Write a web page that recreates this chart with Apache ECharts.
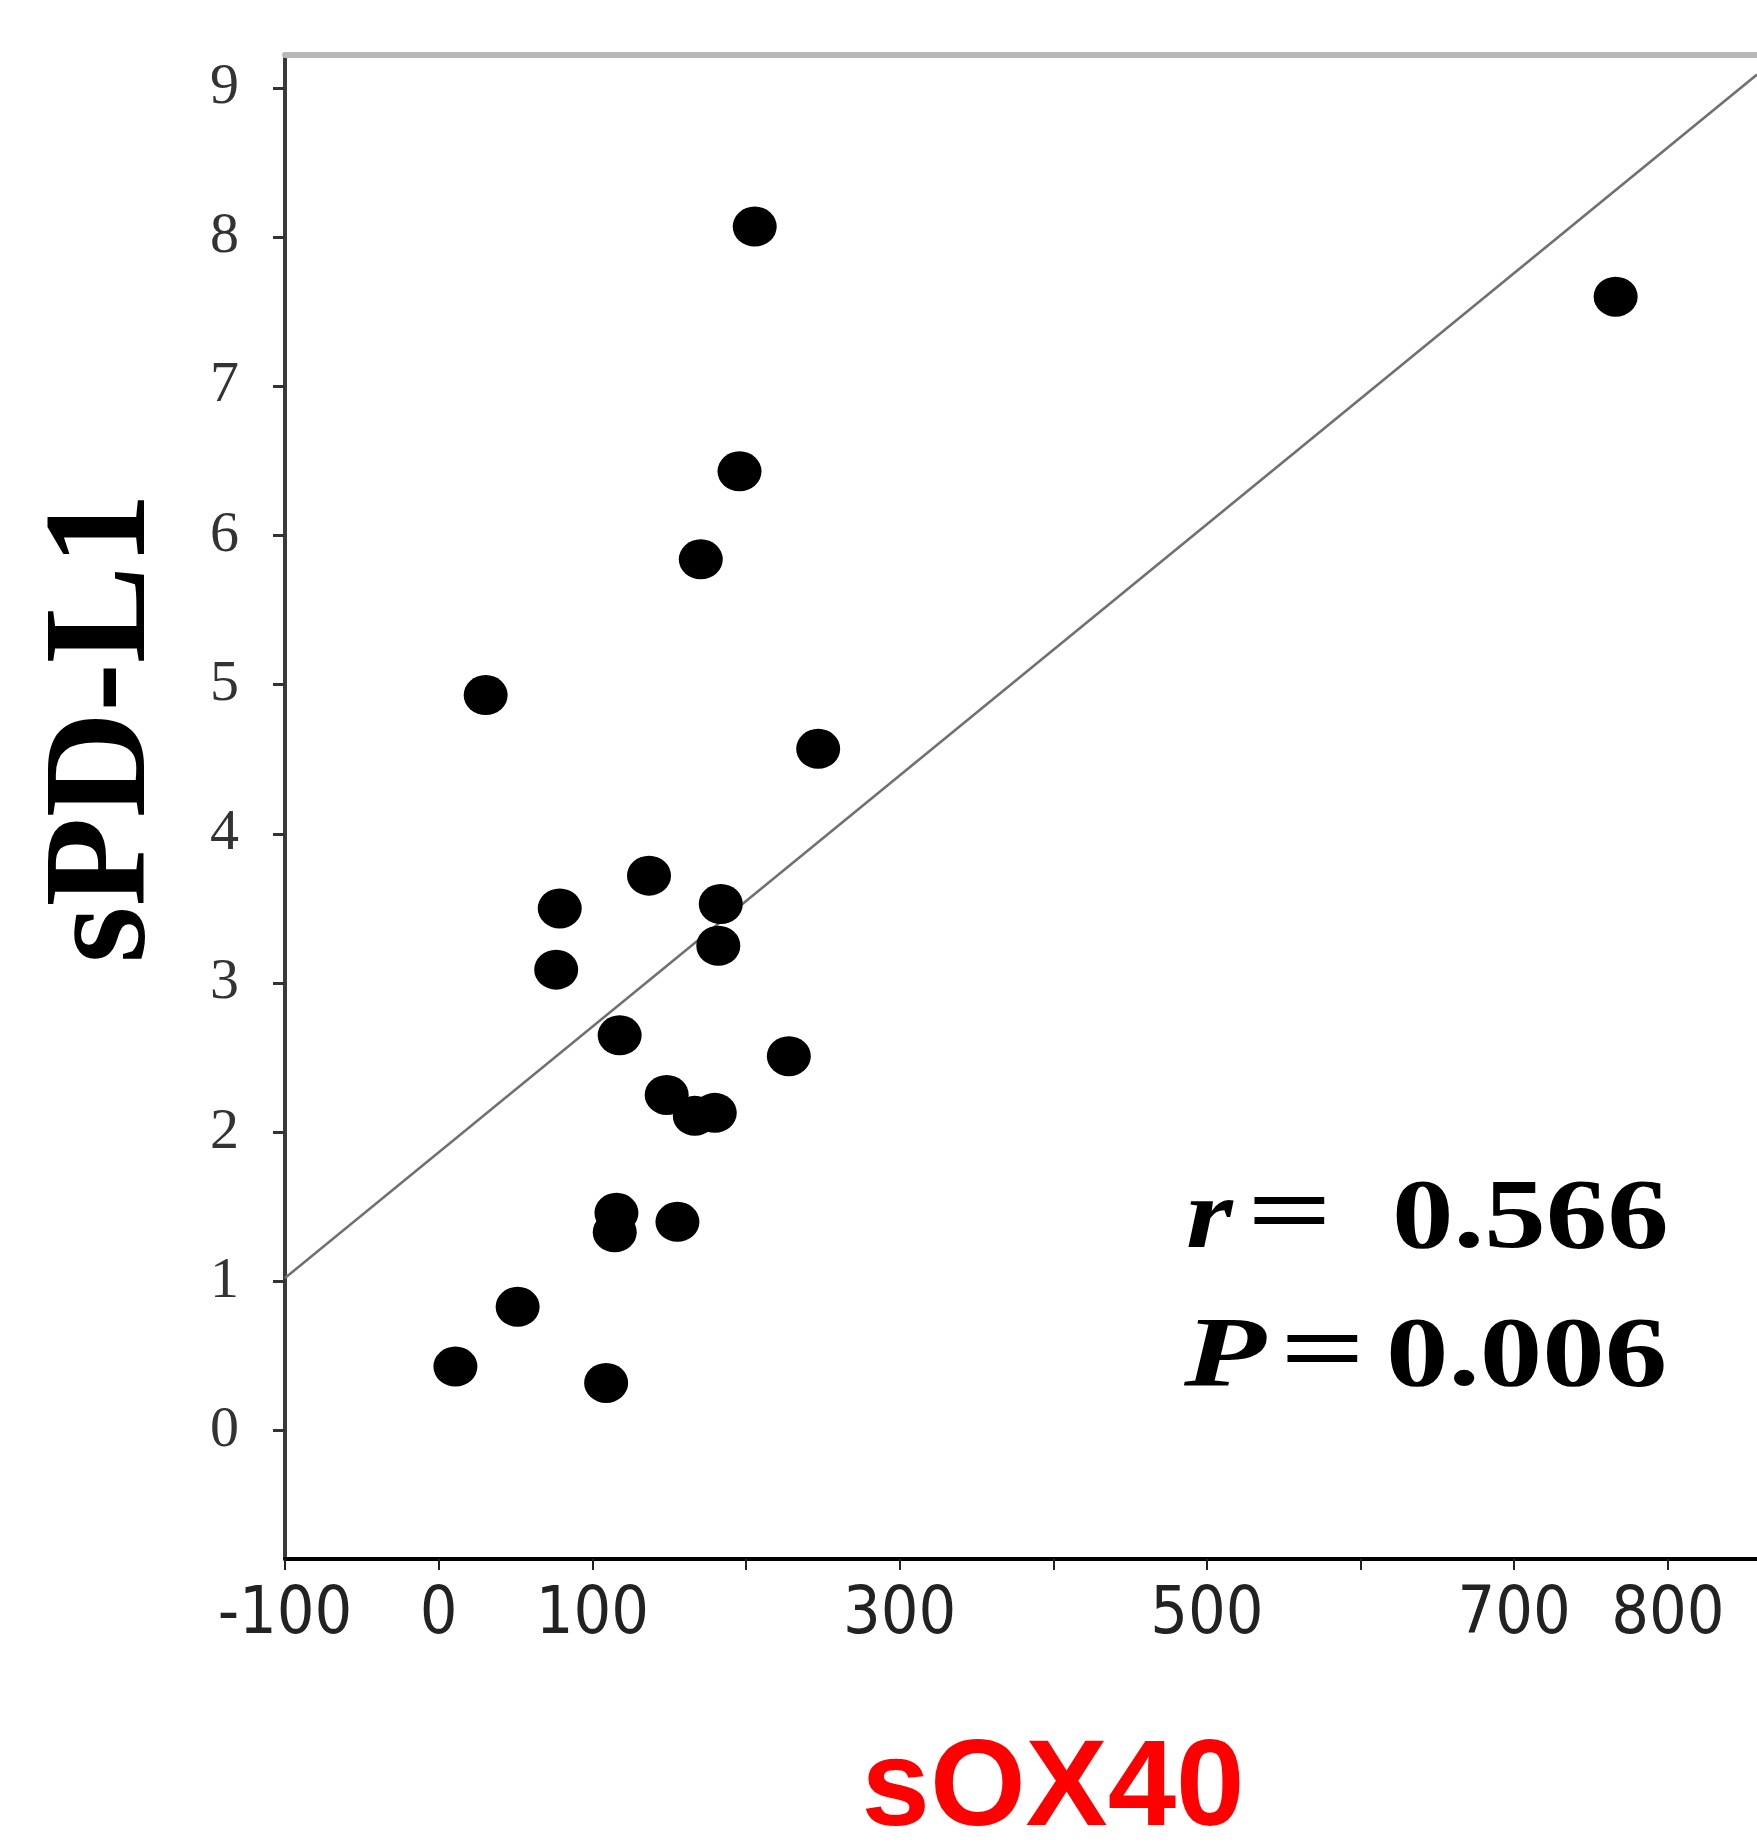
<!DOCTYPE html>
<html>
<head>
<meta charset="utf-8">
<script src="https://cdn.jsdelivr.net/npm/echarts@6/dist/echarts.min.js"></script>
<style>
html,body{margin:0;padding:0;background:#fff;}
#chart{width:1757px;height:1842px;}
</style>
</head>
<body>
<div id="chart"></div>
<script>
// ---- data ----
const sOX40 = [205.7, 766, 195.8, 170.6, 30.6, 247, 136.9, 78.8, 183.6, 76.5, 182, 117.8, 227.9, 148.4, 166.7, 179.7, 115.7, 114.6, 155.4, 51.4, 10.9, 109.0];
const sPDL1 = [8.07, 7.60, 6.43, 5.84, 4.93, 4.57, 3.72, 3.50, 3.53, 3.09, 3.25, 2.65, 2.51, 2.25, 2.11, 2.13, 1.46, 1.33, 1.40, 0.83, 0.43, 0.32];
const xTickValues = [-100, 0, 100, 200, 300, 400, 500, 600, 700, 800];
const xLabelValues = [-100, 0, 100, 300, 500, 700, 800];
const yTickValues = [0, 1, 2, 3, 4, 5, 6, 7, 8, 9];
const xRange = [-100, 858];
const yRange = [-0.86, 9.22];
const xTitle = 'sOX40';
const yTitle = 'sPD-L1';
const statR = '0.566';
const statP = '0.006';

// ---- build ----
const points = sOX40.map((x, i) => [x, sPDL1[i]]);
// least-squares fit line
const n = sOX40.length;
const mx = sOX40.reduce((a, b) => a + b, 0) / n;
const my = sPDL1.reduce((a, b) => a + b, 0) / n;
let sxy = 0, sxx = 0;
for (let i = 0; i < n; i++) { sxy += (sOX40[i] - mx) * (sPDL1[i] - my); sxx += (sOX40[i] - mx) ** 2; }
const slope = sxy / sxx;
const intercept = my - slope * mx;
const fitLine = xRange.map(x => [x, intercept + slope * x]);

const serif = '"Liberation Serif", "Times New Roman", serif';
const sansNarrow = '"Liberation Sans Narrow", "DejaVu Sans Condensed", "Liberation Sans", sans-serif';
const statStyle = (txt, italic) => ({
  text: txt, fontFamily: serif, fontSize: 100, fontWeight: 'bold',
  fontStyle: italic ? 'italic' : 'normal', fill: '#000',
  textAlign: 'left', textVerticalAlign: 'middle'
});

const chart = echarts.init(document.getElementById('chart'), null, {renderer: 'canvas'});
chart.setOption({
  backgroundColor: '#fff',
  animation: false,
  grid: {left: 285, right: 0, top: 55, bottom: 283, containLabel: false},
  xAxis: [{
    type: 'value', min: xRange[0], max: xRange[1],
    axisLine: {show: true, onZero: false, lineStyle: {color: '#000', width: 4}},
    axisTick: {show: true, length: 11, customValues: xTickValues, lineStyle: {color: '#222', width: 2}},
    axisLabel: {show: true, customValues: xLabelValues, margin: 24, color: '#222',
      fontFamily: sansNarrow, fontSize: 66},
    splitLine: {show: false}
  }, {
    type: 'value', position: 'top', min: xRange[0], max: xRange[1],
    axisLine: {show: true, onZero: false, lineStyle: {color: '#b8b8b8', width: 6}},
    axisTick: {show: false}, axisLabel: {show: false}, splitLine: {show: false}
  }],
  yAxis: {
    type: 'value', min: yRange[0], max: yRange[1],
    axisLine: {show: true, onZero: false, lineStyle: {color: '#3a3a3a', width: 4}},
    axisTick: {show: true, length: 12, customValues: yTickValues, lineStyle: {color: '#333', width: 3}},
    axisLabel: {show: true, customValues: yTickValues, margin: 46, color: '#333',
      fontFamily: serif, fontSize: 58},
    splitLine: {show: false}
  },
  series: [{
    type: 'line', data: fitLine, symbol: 'none', silent: true,
    lineStyle: {color: '#707070', width: 2.5}, z: 2
  }, {
    type: 'scatter', data: points, symbol: 'circle', symbolSize: [44, 40],
    itemStyle: {color: '#000', opacity: 1}, z: 3
  }],
  graphic: [
    {type: 'text', x: 106, y: 728, rotation: Math.PI / 2,
      style: {text: yTitle, fontFamily: serif, fontSize: 146, fontWeight: 'bold', fill: '#000',
        textAlign: 'center', textVerticalAlign: 'middle'}},
    {type: 'text', x: 1053, y: 1791,
      style: {text: xTitle, fontFamily: '"Liberation Sans", Arial, sans-serif', fontSize: 123, fontWeight: 'bold',
        fill: '#ff0000', textAlign: 'center', textVerticalAlign: 'middle'}},
    {type: 'text', x: 1186, y: 1221, scaleX: 1.2, style: statStyle('r', true)},
    {type: 'text', x: 1247, y: 1218, scaleX: 1.5, style: statStyle('=', false)},
    {type: 'text', x: 1392, y: 1221, scaleX: 1.23, style: statStyle(statR, false)},
    {type: 'text', x: 1184, y: 1359, scaleX: 1.34, style: statStyle('P', true)},
    {type: 'text', x: 1280, y: 1356, scaleX: 1.5, style: statStyle('=', false)},
    {type: 'text', x: 1386, y: 1359, scaleX: 1.25, style: statStyle(statP, false)}
  ]
});
</script>
</body>
</html>
